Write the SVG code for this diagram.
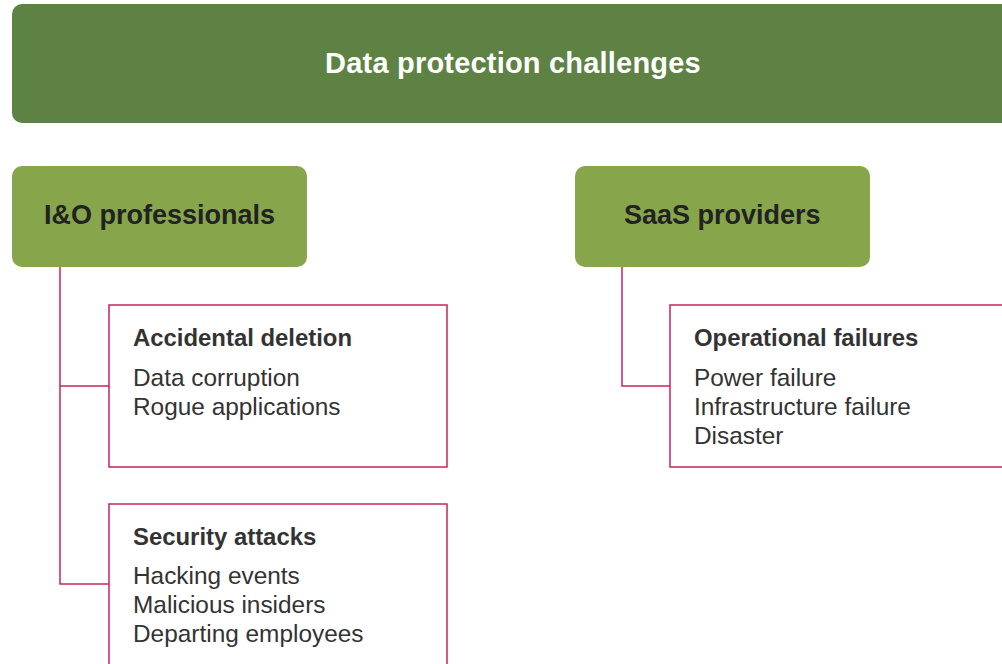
<svg xmlns="http://www.w3.org/2000/svg" width="1002" height="664" viewBox="0 0 1002 664">
  <style>
    .hdr { fill: #5e8144; }
    .grp { fill: #87a64b; }
    .card { fill: #ffffff; stroke: #c8235f; stroke-width: 1.5; }
    .wire { fill: none; stroke: #c8235f; stroke-width: 1.5; }
    .title { font-family: "Liberation Sans", Arial, sans-serif; font-weight: bold; font-size: 29px; letter-spacing: 0.2px; fill: #ffffff; }
    .glabel { font-family: "Liberation Sans", Arial, sans-serif; font-weight: bold; font-size: 27px; fill: #222222; }
    .head { font-family: "Liberation Sans", Arial, sans-serif; font-weight: bold; font-size: 23.9px; fill: #333333; }
    .item { font-family: "Liberation Sans", Arial, sans-serif; font-size: 24.4px; fill: #333333; }
  </style>
  <rect width="1002" height="664" fill="#ffffff"/>

  <g id="header">
    <rect class="hdr" x="12" y="4" width="1010" height="119" rx="10"/>
    <text class="title" x="513" y="73" text-anchor="middle">Data protection challenges</text>
  </g>

  <g id="connectors">
    <path class="wire" d="M60 267 V584 H109 M60 386 H109"/>
    <path class="wire" d="M622 267 V386 H670"/>
  </g>

  <g id="io-professionals">
    <rect class="grp" x="12" y="166" width="295" height="101" rx="10"/>
    <text class="glabel" x="44" y="224">I&amp;O professionals</text>
  </g>

  <g id="saas-providers">
    <rect class="grp" x="575" y="166" width="295" height="101" rx="10"/>
    <text class="glabel" x="624" y="224">SaaS providers</text>
  </g>

  <g id="accidental-deletion">
    <rect class="card" x="109" y="305" width="338" height="162"/>
    <text class="head" x="133" y="346">Accidental deletion</text>
    <text class="item" x="133" y="386">Data corruption</text>
    <text class="item" x="133" y="415">Rogue applications</text>
  </g>

  <g id="security-attacks">
    <rect class="card" x="109" y="504" width="338" height="180"/>
    <text class="head" x="133" y="545">Security attacks</text>
    <text class="item" x="133" y="584">Hacking events</text>
    <text class="item" x="133" y="613">Malicious insiders</text>
    <text class="item" x="133" y="642">Departing employees</text>
  </g>

  <g id="operational-failures">
    <rect class="card" x="670" y="305" width="350" height="162"/>
    <text class="head" x="694" y="346">Operational failures</text>
    <text class="item" x="694" y="386">Power failure</text>
    <text class="item" x="694" y="415">Infrastructure failure</text>
    <text class="item" x="694" y="444">Disaster</text>
  </g>
</svg>
